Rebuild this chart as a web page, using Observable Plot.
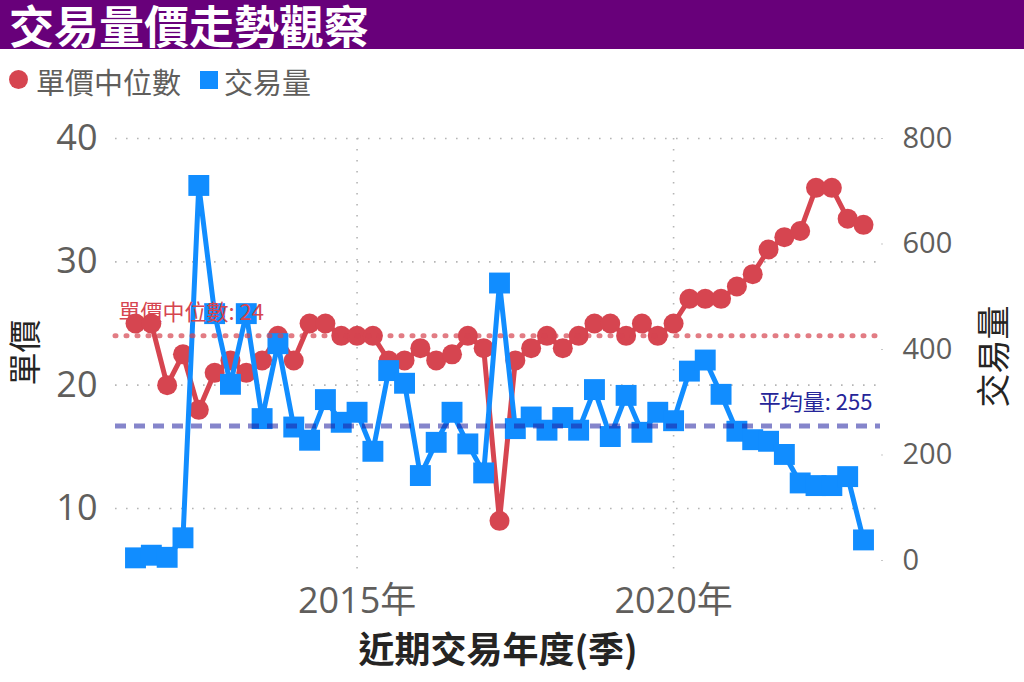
<!DOCTYPE html>
<html>
<head>
<meta charset="utf-8">
<script src="https://cdn.jsdelivr.net/npm/d3@7"></script>
<script src="https://cdn.jsdelivr.net/npm/@observablehq/plot@0.6"></script>
<style>
  html, body { margin: 0; padding: 0; background: #fff; }
  body { width: 1024px; height: 682px; overflow: hidden; font-family: "Open Sans", "Noto Sans CJK TC", sans-serif; }
  #title { height: 49px; background: #68007A; position: relative; }
  #title span { position: absolute; left: 9px; top: 2px; color: #fff; font-family: "Noto Sans CJK TC", sans-serif; font-weight: bold; font-size: 45px; line-height: 45px; white-space: nowrap; }
  #legend { height: 61px; position: relative; }
  #legend .sw { position: absolute; }
  #legend .lt { position: absolute; font-family: "Noto Sans CJK TC", sans-serif; font-size: 29px; line-height: 30px; color: #605E5C; top: 17px; white-space: nowrap; }
  #chart { height: 572px; }
</style>
</head>
<body>
<div id="title"><span id="tt"></span></div>
<div id="legend">
  <div class="sw" style="left:9px;top:21px;width:19px;height:19px;border-radius:50%;background:#D64550"></div>
  <div class="lt" id="lg1" style="left:36px"></div>
  <div class="sw" style="left:200px;top:22px;width:18px;height:18px;background:#118DFF"></div>
  <div class="lt" id="lg2" style="left:224px"></div>
</div>
<div id="chart"></div>
<script>
const titleText = "交易量價走勢觀察";
const seriesNames = ["單價中位數", "交易量"];
const yLeftTitle = "單價";
const yRightTitle = "交易量";
const xTitle = "近期交易年度(季)";

const quarters = [
  "2011Q3","2011Q4",
  "2012Q1","2012Q2","2012Q3","2012Q4",
  "2013Q1","2013Q2","2013Q3","2013Q4",
  "2014Q1","2014Q2","2014Q3","2014Q4",
  "2015Q1","2015Q2","2015Q3","2015Q4",
  "2016Q1","2016Q2","2016Q3","2016Q4",
  "2017Q1","2017Q2","2017Q3","2017Q4",
  "2018Q1","2018Q2","2018Q3","2018Q4",
  "2019Q1","2019Q2","2019Q3","2019Q4",
  "2020Q1","2020Q2","2020Q3","2020Q4",
  "2021Q1","2021Q2","2021Q3","2021Q4",
  "2022Q1","2022Q2","2022Q3","2022Q4",
  "2023Q1"
];
const price = [25,25,20,22.5,18,21,22,21,22,24,22,25,25,24,24,24,22,22,23,22,22.5,24,23,9,22,23,24,23,24,25,25,24,25,24,25,27,27,27,28,29,31,32,32.5,36,36,33.5,33];
const volume = [5,10,6,43,711,468,334,468,269,411,253,228,305,262,281,207,360,336,161,224,281,221,166,526,250,272,247,271,247,324,235,313,243,281,265,359,380,315,245,229,226,201,147,142,142,159,39];

const priceTicks = [10, 20, 30, 40];
const volumeTicks = [0, 200, 400, 600, 800];
const yearTicks = [2015, 2020];
const medianPrice = 24;
const avgVolume = 255;
const medianLabel = "單價中位數: " + medianPrice;
const avgLabel = "平均量: " + avgVolume;

document.getElementById("tt").textContent = titleText;
document.getElementById("lg1").textContent = seriesNames[0];
document.getElementById("lg2").textContent = seriesNames[1];

const RED = "#D64550", BLUE = "#118DFF", GREY = "#605E5C";
// secondary axis mapping: volume 0..800 onto the price scale
const P_LO = 5.784, P_HI = 40;
const K = (P_HI - P_LO) / 800;
const vToP = v => P_LO + v * K;
const pToV = p => Math.round((p - P_LO) / K);

const data = quarters.map((q, i) => ({
  t: +q.slice(0, 4) + (+q.slice(5) - 1) / 4,
  price: price[i],
  vol: volume[i]
}));

const FONT = '"Open Sans", "Noto Sans CJK TC", sans-serif';
const CJK = '"Noto Sans CJK TC", sans-serif';

const chart = Plot.plot({
  width: 1024,
  height: 572,
  marginTop: 28,
  marginBottom: 110,
  marginLeft: 115,
  marginRight: 144,
  style: { fontFamily: FONT, background: "transparent", overflow: "visible" },
  x: { type: "linear", domain: [2011.184, 2023.2686] },
  y: { domain: [4.81, 40] },
  marks: [
    Plot.gridY(priceTicks, { stroke: "#b5b5b5", strokeOpacity: 1, strokeWidth: 1.6, strokeDasharray: "1.6 9.4" }),
    Plot.gridX(yearTicks, { stroke: "#b5b5b5", strokeOpacity: 1, strokeWidth: 1.6, strokeDasharray: "1.6 9.4" }),
    Plot.axisY(priceTicks, { anchor: "left", tickSize: 0, tickPadding: 18, fontSize: 36, color: GREY, label: null }),
    Plot.axisY(volumeTicks.map(vToP), { anchor: "right", tickSize: 2, tickPadding: 20, stroke: "#c8c8c8", fill: GREY, fontSize: 29, tickFormat: d => pToV(d), label: null }),
    Plot.axisX(yearTicks, { anchor: "bottom", tickSize: 0, tickPadding: 15, fontSize: 36, color: GREY, tickFormat: d => d + "年", label: null }),

    Plot.line(data, { x: "t", y: "price", stroke: RED, strokeWidth: 5 }),
    Plot.dot(data, { x: "t", y: "price", r: 10, fill: RED }),
    Plot.line(data, { x: "t", y: d => vToP(d.vol), stroke: BLUE, strokeWidth: 5 }),
    Plot.dot(data, { x: "t", y: d => vToP(d.vol), symbol: "square", r: 11.8, fill: BLUE }),

    Plot.ruleY([medianPrice], { stroke: RED, strokeOpacity: 0.7, strokeWidth: 5, strokeDasharray: "1 10", strokeLinecap: "round" }),
    Plot.ruleY([vToP(avgVolume)], { stroke: "#2020A0", strokeOpacity: 0.55, strokeWidth: 5, strokeDasharray: "11 8" }),

    Plot.text([medianLabel], { frameAnchor: "left", y: [medianPrice], dx: 3, dy: -23, textAnchor: "start", fill: RED, fontSize: 22, fontFamily: CJK }),
    Plot.text([avgLabel], { frameAnchor: "right", y: [vToP(avgVolume)], dx: -8, dy: -23, textAnchor: "end", fill: "#252599", fontSize: 22, fontFamily: CJK }),

    Plot.text([yLeftTitle], { frameAnchor: "left", dx: -89, dy: -3, rotate: -90, textAnchor: "middle", lineAnchor: "middle", fontSize: 33, fill: "#252423", fontFamily: CJK }),
    Plot.text([yRightTitle], { frameAnchor: "right", dx: 115, dy: 1, rotate: -90, textAnchor: "middle", lineAnchor: "middle", fontSize: 34, fill: "#252423", fontFamily: CJK }),
    Plot.text([xTitle], { frameAnchor: "bottom", dy: 79, textAnchor: "middle", lineAnchor: "middle", fontSize: 36, fontWeight: "bold", fill: "#252423", fontFamily: CJK })
  ]
});
document.getElementById("chart").appendChild(chart);
</script>
</body>
</html>
